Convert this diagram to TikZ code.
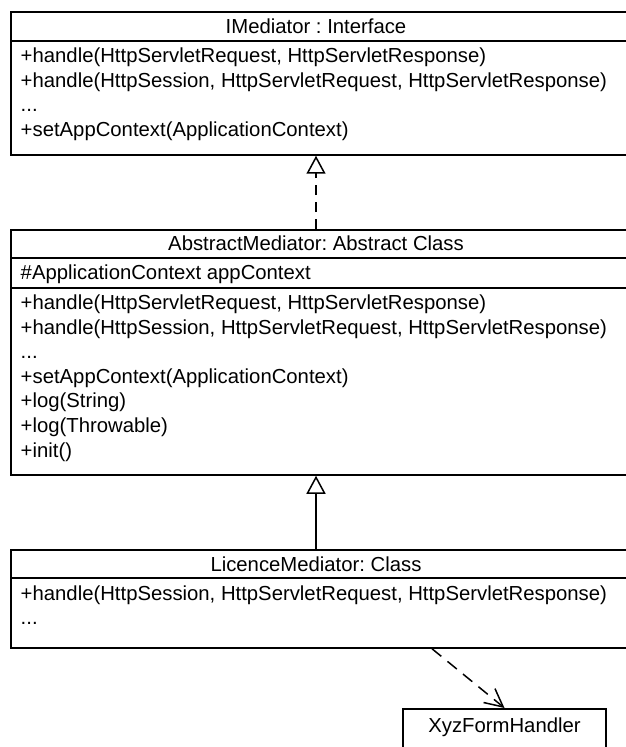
\documentclass[tikz,border=0pt]{standalone}
\usepackage{fontspec}
\setmainfont{Liberation Sans}
\usetikzlibrary{arrows.meta}
\frenchspacing
\newcommand\moreops{...}
\tikzset{
    classbox/.style ={rectangle, draw, inner sep=0pt, minimum width=308pt},
    member/.style ={anchor=base west, inner sep=0pt},
    classname/.style ={anchor=base, inner sep=0pt},
    realize/.style ={dash pattern=on 5pt off 3.5pt, -{Triangle[open,length=9pt,width=9.5pt]}},
    inherit/.style ={-{Triangle[open,length=9pt,width=9.5pt]}},
    uses/.style ={dash pattern=on 6pt off 4pt, -{Straight Barb[length=9pt,width=9pt]}}}

\begin{document}
\begin{tikzpicture}[x=0.5pt,y=-0.5pt,line width=0.75pt,
        every node/.style={font=\fontsize{10.15}{12}\selectfont}]
    \useasboundingbox (0,0) rectangle (625,747);
    \coordinate (axis) at (316,0);
    \coordinate (depfoot) at (432,0);
    % class boxes
    \node[classbox, minimum height=71.5pt] (imed) at (319,83.5) {};
    \node[classbox, minimum height=122.5pt] (absmed) at (319,352.5) {};
    \node[classbox, minimum height=49pt] (licmed) at (319,599) {};
    \node[classbox, anchor=north, minimum width=101.5pt, inner ysep=4.6pt, text depth=10pt] (handler) at (504.5,708) {XyzFormHandler};
    % compartments
    \draw (imed.west |- 0,41) -- (imed.east |- 0,41);
    \draw (absmed.west |- 0,258) -- (absmed.east |- 0,258);
    \draw (absmed.west |- 0,288) -- (absmed.east |- 0,288);
    \draw (licmed.west |- 0,578) -- (licmed.east |- 0,578);
    % IMediator
    \node[classname] (imed-name) at (316,34) {IMediator : Interface};
    \foreach \txt [count=\i] in {{+handle(HttpServletRequest, HttpServletResponse)},
            {+handle(HttpSession, HttpServletRequest, HttpServletResponse)},
            {\moreops},{+setAppContext(ApplicationContext)}}
        \node[member] (imed-op\i) at (20,{63+24.5*(\i-1)}) {\txt};
    % AbstractMediator
    \node[classname] (absmed-name) at (316,251) {AbstractMediator: Abstract Class};
    \node[member] (absmed-attr) at (20,280) {\#ApplicationContext appContext};
    \foreach \txt [count=\i] in {{+handle(HttpServletRequest, HttpServletResponse)},
            {+handle(HttpSession, HttpServletRequest, HttpServletResponse)},
            {\moreops},{+setAppContext(ApplicationContext)},
            {+log(String)},{+log(Throwable)},{+init()}}
        \node[member] (absmed-op\i) at (20,{310+24.5*(\i-1)}) {\txt};
    % LicenceMediator
    \node[classname] (licmed-name) at (316,571) {LicenceMediator: Class};
    \node[member] (licmed-op1) at (20,600) {+handle(HttpSession, HttpServletRequest, HttpServletResponse)};
    \node[member] (licmed-op2) at (20,624.5) {\moreops};
    % relations
    \draw[realize] (absmed.north -| axis) -- (imed.south -| axis);
    \draw[inherit] (licmed.north -| axis) -- (absmed.south -| axis);
    \draw[uses] (licmed.south -| depfoot) -- (handler.north);
\end{tikzpicture}
\end{document}
